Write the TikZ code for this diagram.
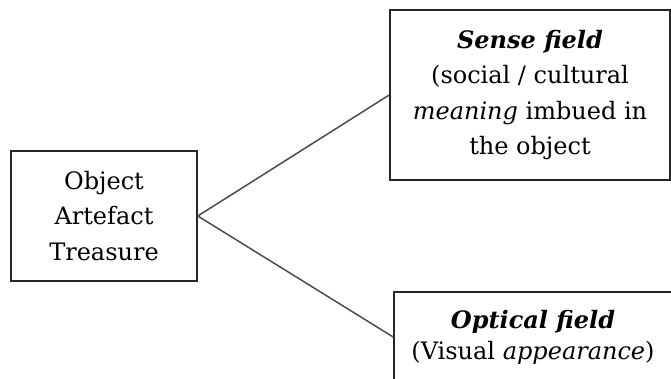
\documentclass[tikz,border=0pt]{standalone}
\usepackage{fontspec}
\setmainfont{DejaVu Serif}
\begin{document}
\begin{tikzpicture}[x=1pt,y=-1pt,
  box/.style={draw=black!85, line width=1.6pt, inner sep=0pt, align=center,
    font=\fontsize{24}{35.5}\selectfont},
  link/.style={draw=black!70, line width=1.5pt}]
\useasboundingbox (0,0) rectangle (671,379);
\node[box, minimum width=186pt, minimum height=130pt] (obj) at (104,216)
  {Object\\Artefact\\Treasure};
\node[box, minimum width=280pt, minimum height=170pt] (sense) at (530,95)
  {\textbf{\textit{Sense field}}\\(social / cultural\\\textit{meaning} imbued in\\the object};
\node[box, minimum width=278pt, minimum height=90pt, font=\fontsize{24}{31}\selectfont] (optical) at (533,337)
  {\textbf{\textit{Optical field}}\\(Visual \textit{appearance})};
\draw[link] (obj.east) -- (sense.west);
\draw[link] (obj.east) -- (optical.west);
\end{tikzpicture}
\end{document}
